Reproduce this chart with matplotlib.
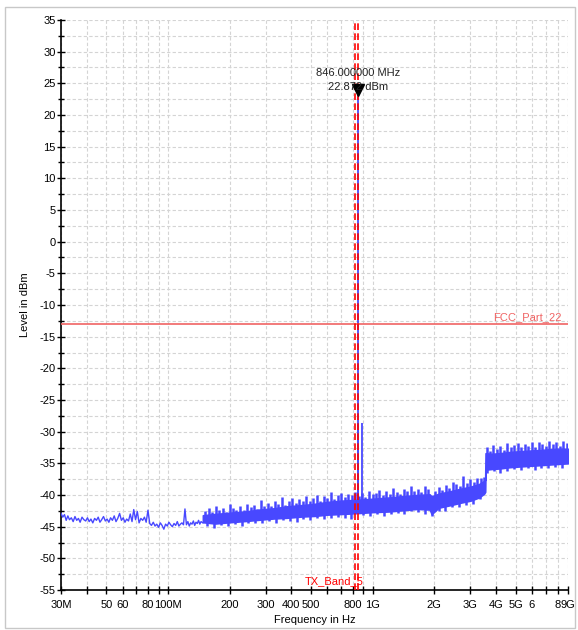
import matplotlib
matplotlib.use("Agg")
import matplotlib.pyplot as plt
from matplotlib.patches import Rectangle
import numpy as np

plt.rcParams['font.family'] = ['Liberation Sans', 'DejaVu Sans']
plt.rcParams['axes.unicode_minus'] = False

# ---------------- data (frequencies in MHz, levels in dBm) ----------------
lf_freq = [30, 30.6, 31.2, 31.8, 32.4, 33, 33.7, 34.4, 35.1, 35.8, 36.5, 37.2, 38, 38.8,
           39.6, 40.4, 41.2, 42, 42.9, 43.8, 44.7, 45.6, 46.5, 47.4, 48.4, 49.4, 50.4,
           51.4, 52.4, 53.5, 54.6, 55.7, 56.8, 58, 59.2, 60.4, 61.6, 62.8, 64.1, 65.4,
           66.7, 68, 69.4, 70.8, 72.2, 73.7, 75.2, 76.7, 78.2, 79.8, 81.4, 83, 84.7,
           86.4, 88.1, 89.9, 91.7, 93.5, 95.4, 97.3, 99.2, 101, 103, 105, 107, 109, 111,
           113, 115, 117, 119, 121, 123, 125, 127, 129, 131, 133, 135, 137, 139, 141,
           143, 145, 148]
lf_level = [-42.9, -43.5, -43.1, -44.0, -43.3, -43.9, -43.6, -44.2, -43.4, -44.0, -43.7,
            -44.3, -43.5, -43.9, -44.1, -43.6, -44.2, -43.8, -44.4, -43.7, -44.0, -43.5,
            -44.3, -43.9, -43.4, -44.1, -43.8, -44.3, -43.6, -44.0, -43.3, -44.2, -43.7,
            -42.9, -44.0, -43.6, -44.3, -43.8, -44.1, -43.0, -44.2, -42.3, -43.9, -42.6,
            -44.4, -43.7, -44.0, -43.5, -44.3, -42.4, -44.5, -44.8, -44.3, -44.9, -44.6,
            -45.1, -44.4, -44.8, -45.4, -44.6, -44.9, -44.3, -44.7, -45.0, -44.5, -44.8,
            -44.2, -44.9, -44.6, -44.4, -44.7, -42.2, -44.7, -44.2, -44.9, -44.4, -44.6,
            -44.1, -44.8, -44.3, -44.5, -44.0, -44.6, -44.2, -44.4]

# noise band body above ~150 MHz
band_freq = [148, 170, 200, 240, 280, 330, 380, 450, 520, 600, 700, 800, 900, 1000, 1200,
             1400, 1650, 1900, 1940, 1990, 2100, 2400, 2700, 3000, 3300, 3500, 3545, 3560,
             3800, 4200, 4700, 5200, 5800, 6500, 7200, 8000, 9000]
band_low = [-44.3, -44.5, -44.3, -44.1, -43.9, -43.7, -43.6, -43.4, -43.3, -43.1, -43.0,
            -42.9, -42.8, -42.7, -42.6, -42.4, -42.2, -42.3, -43.0, -42.7, -42.0, -41.6,
            -41.2, -40.9, -40.4, -39.8, -39.5, -36.0, -35.9, -35.8, -35.6, -35.5, -35.4,
            -35.3, -35.2, -35.1, -35.0]
band_high = [-43.2, -43.0, -42.8, -42.6, -42.3, -42.1, -41.8, -41.6, -41.4, -41.1, -40.9,
             -40.8, -40.7, -40.6, -40.4, -40.2, -40.0, -39.9, -40.3, -40.1, -39.8, -39.4,
             -39.0, -38.7, -38.3, -37.8, -37.6, -33.4, -33.5, -33.4, -33.2, -33.1, -33.0,
             -32.9, -32.8, -32.7, -32.7]

# upward spikes of the noise band (rise above the band body, dB)
spike_freq = [152, 158, 164, 171, 178, 185, 192, 200, 208, 216, 225, 234, 243, 253, 263,
              273, 284, 296, 307, 320, 333, 346, 360, 374, 389, 405, 421, 438, 455, 473,
              492, 512, 533, 554, 576, 599, 623, 648, 674, 701, 729, 758, 788, 820, 853,
              887, 922, 959, 998, 1038, 1079, 1122, 1167, 1214, 1262, 1313, 1365, 1420,
              1477, 1536, 1597, 1661, 1727, 1796, 1868, 1943, 2021, 2102, 2186, 2273, 2364,
              2459, 2557, 2659, 2766, 2876, 2991, 3111, 3235, 3365, 3500, 3600, 3740, 3890,
              4050, 4210, 4380, 4550, 4730, 4920, 5120, 5320, 5540, 5760, 5990, 6230, 6480,
              6740, 7000, 7280, 7580, 7880, 8190, 8520, 8860]
spike_rise = [0.6, 1.1, 0.3, 1.3, 0.5, 0.9, 0.2, 1.4, 0.7, 0.4,
              1.0, 0.3, 1.2, 0.6, 0.8, 0.2, 1.5, 0.5, 0.9, 0.4,
              1.1, 0.6, 1.6, 0.3, 0.8, 1.2, 0.4, 1.0, 0.6, 1.3,
              0.5, 0.9, 1.4, 0.3, 1.1, 0.7, 1.5, 0.4, 0.9, 1.2,
              0.5, 1.0, 0.8, 1.3, 0.6, 1.1, 0.4, 1.2, 0.7, 0.9,
              1.3, 0.5, 1.0, 0.6, 1.4, 0.8, 0.4, 1.2, 0.7, 1.5,
              0.6, 1.0, 0.5, 1.3, 0.8, 0.3, 0.7, 1.1, 0.5, 1.2,
              0.6, 1.4, 0.9, 0.5, 2.0, 0.7, 1.2, 0.6, 1.0, 0.8,
              0.6, 1.0, 0.5, 1.3, 0.7, 1.1, 0.4, 1.4, 0.8, 1.0,
              1.3, 0.6, 1.1, 0.7, 1.4, 0.5, 1.2, 0.9, 0.6, 1.3,
              0.8, 1.1, 0.5, 1.2, 0.9]

# downward dips of the noise band (drop below the band body, dB)
dip_freq = [155, 168, 181, 196, 212, 229, 247, 267, 289, 312, 337, 364, 393, 425, 459, 496,
            536, 579, 625, 675, 729, 787, 900, 972, 1050, 1134, 1225, 1323, 1429, 1543,
            1667, 1800, 1944, 2100, 2268, 2449, 2645, 2857, 3085, 3332, 3620, 3900, 4200,
            4540, 4900, 5300, 5720, 6180, 6670, 7200, 7780, 8400]
dip_drop = [0.5, 0.8, 0.3, 0.6, 0.4, 0.7, 0.3, 0.5, 0.6, 0.4,
            0.7, 0.3, 0.5, 0.8, 0.4, 0.6, 0.3, 0.7, 0.5, 0.4,
            0.6, 0.8, 0.4, 0.6, 0.3, 0.7, 0.5, 0.4, 0.6, 0.3,
            0.5, 0.7, 0.4, 0.6, 0.8, 0.4, 0.6, 0.5, 0.7, 0.4,
            0.6, 0.4, 0.7, 0.5, 0.3, 0.6, 0.4, 0.7, 0.5, 0.6,
            0.4, 0.6]

# spectral peaks (carrier + spurs)
peak_freq = [843, 846, 890]
peak_level = [-28.6, 22.872, -28.6]
peak_base = -42.5

# limit line and band markers
limit_level = -13
band_edges = [824, 849]
marker_freq = 846.0
marker_level = 22.872

x_ticks = [30, 40, 50, 60, 70, 80, 90, 100, 200, 300, 400, 500, 600, 700, 800, 900,
           1000, 2000, 3000, 4000, 5000, 6000, 7000, 8000, 9000]
x_labels = ['30M', '', '50', '60', '', '80', '', '100M', '200', '300', '400', '500', '',
            '', '800', '', '1G', '2G', '3G', '4G', '5G', '6', '', '8', '9G']
y_ticks = list(range(-55, 40, 5))

# ---------------- plotting ----------------
blue = '#4848ff'
M = 1e6

fig = plt.figure(figsize=(5.78, 6.30), dpi=100)
ax = fig.add_axes([61 / 578, 40 / 630, 507 / 578, 570 / 630])

ax.set_xscale('log')
ax.set_xlim(30 * M, 9000 * M)
ax.set_ylim(-55, 35)

bf = np.array(band_freq) * M
ax.plot(np.array(lf_freq) * M, lf_level, color=blue, lw=1.0, zorder=3)
ax.fill_between(bf, band_low, band_high, color=blue, lw=1.2, edgecolor=blue, zorder=3)

sf = np.array(spike_freq) * M
s_base = np.interp(sf, bf, band_high)
ax.vlines(sf, s_base - 0.3, s_base + np.array(spike_rise), color=blue, lw=1.8, zorder=3)
df = np.array(dip_freq) * M
d_base = np.interp(df, bf, band_low)
ax.vlines(df, d_base - np.array(dip_drop), d_base + 0.3, color=blue, lw=1.8, zorder=3)

ax.vlines(np.array(peak_freq) * M, peak_base, peak_level, color=blue, lw=1.3, zorder=3)

ax.axhline(limit_level, color='#f06464', lw=1.2, zorder=4)
for f in band_edges:
    ax.axvline(f * M, color='#ff0000', lw=1.2, ls=(0, (4, 2)), zorder=5)

ax.plot([marker_freq * M], [marker_level + 1.0], marker='v', color='black',
        markersize=8, zorder=6)
ax.text(marker_freq * M, 26.6, '846.000000 MHz', ha='center', va='center',
        fontsize=8, color='#222222', zorder=7)
ax.text(marker_freq * M, 24.4, '22.872 dBm', ha='center', va='center',
        fontsize=8, color='#222222', zorder=7)

ax.text(0.988, limit_level + 0.3, 'FCC_Part_22', transform=ax.get_yaxis_transform(),
        ha='right', va='bottom', fontsize=8, color='#f06464')
ax.text(0.539, 0.006, 'TX_Band_5', transform=ax.transAxes, ha='center', va='bottom',
        fontsize=8, color='#ff0000')

ax.set_xticks(np.array(x_ticks) * M)
ax.set_xticklabels(x_labels)
ax.xaxis.set_minor_locator(matplotlib.ticker.NullLocator())
ax.set_yticks(y_ticks)
ax.set_yticks(np.arange(-52.5, 35, 5), minor=True)
ax.tick_params(axis='both', which='major', direction='inout', length=6, width=1,
               labelsize=8, colors='black')
ax.tick_params(axis='y', which='minor', direction='inout', length=4, width=1)
ax.tick_params(axis='y', which='major', pad=1)
ax.tick_params(axis='x', pad=4)

ax.grid(True, which='both', axis='y', color='#d4d4d4', ls=(0, (3, 2)), lw=0.8, zorder=0)
ax.grid(True, which='major', axis='x', color='#d4d4d4', ls=(0, (3, 2)), lw=0.8, zorder=0)
for s in ['top', 'right']:
    ax.spines[s].set_visible(False)
ax.spines['left'].set_linewidth(1.2)
ax.spines['bottom'].set_linewidth(1.2)

ax.set_xlabel('Frequency in Hz', fontsize=8, labelpad=4)
ax.set_ylabel('Level in dBm', fontsize=8)
ax.yaxis.set_label_coords(-(61 - 30) / 507, 0.5)

fig.patches.append(Rectangle((5 / 578, 2 / 630), 570 / 578, 621 / 630,
                             transform=fig.transFigure, fill=False,
                             edgecolor='#c8c8c8', lw=1.0))

fig.savefig('out.png', dpi=100)
